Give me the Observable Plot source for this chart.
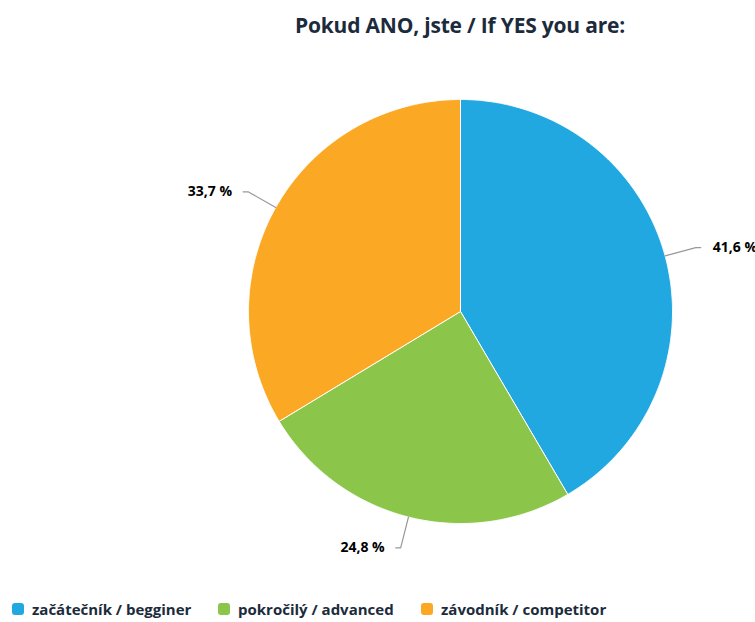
<!DOCTYPE html>
<html>
<head>
<meta charset="utf-8">
<script src="https://cdn.jsdelivr.net/npm/d3@7"></script>
<script src="https://cdn.jsdelivr.net/npm/@observablehq/plot@0.6"></script>
<style>
  body { margin: 0; background: #fff; font-family: "Open Sans", "DejaVu Sans", sans-serif; }
  #wrap { width: 755px; height: 622px; overflow: hidden; position: relative; }
  #title { height: 48px; margin-left: 165px; width: 590px; text-align: center; font-weight: 700; font-size: 21px; line-height: 50px; color: #1c2b3c; letter-spacing: -0.2px; }
  #legend { height: 34px; display: flex; align-items: center; font-size: 15px; font-weight: 700; color: #1c2b3c; }
  .item { display: flex; align-items: center; position: absolute; }
  .sw { width: 12px; height: 12px; border-radius: 3px; margin-right: 8px; }
</style>
</head>
<body>
<div id="wrap">
  <div id="title">Pokud ANO, jste / If YES you are:</div>
  <div id="chart"></div>
  <div id="legend"></div>
</div>
<script>
const categories = ["začátečník / begginer", "pokročilý / advanced", "závodník / competitor"];
const values = [41.6, 24.8, 33.7];
const valueLabels = ["41,6 %", "24,8 %", "33,7 %"];
const colors = ["#21a8e1", "#8bc549", "#fba924"];

const W = 755, H = 540;
const R = 212;              // px per unit radius
const cx = 460, cy = 263;   // pie centre inside the svg

const pie = d3.pie().sort(null).value(d => d.value);
const arcs = pie(categories.map((c, i) => ({cat: c, value: values[i], label: valueLabels[i], color: colors[i]})));

function slicePoints(a) {
  const pts = [{x: 0, y: 0}];
  const n = Math.max(2, Math.ceil((a.endAngle - a.startAngle) / 0.005));
  for (let k = 0; k <= n; k++) {
    const t = a.startAngle + (a.endAngle - a.startAngle) * k / n;
    pts.push({x: Math.sin(t), y: Math.cos(t)});
  }
  pts.push({x: 0, y: 0});
  return pts;
}

const labelData = arcs.map(a => {
  const m = (a.startAngle + a.endAngle) / 2;
  const s = Math.sin(m), c = Math.cos(m);
  const side = s >= 0 ? 1 : -1;
  const ex = 1.15 * s, ey = 1.15 * c;
  const endX = ex + side * 5 / R;
  return {
    label: a.data.label, side,
    line: [{x: s, y: c}, {x: ex, y: ey}, {x: endX, y: ey}],
    tx: endX, ty: ey
  };
});

const marks = [];
arcs.forEach(a => {
  marks.push(Plot.line(slicePoints(a), {x: "x", y: "y", fill: a.data.color, stroke: "#ffffff", strokeWidth: 1, strokeLinejoin: "round"}));
});
labelData.forEach(l => {
  marks.push(Plot.line(l.line, {x: "x", y: "y", stroke: "#999999", strokeWidth: 1.2, curve: "linear"}));
});
marks.push(Plot.text(labelData.filter(d => d.side > 0), {x: "tx", y: "ty", text: "label", textAnchor: "start", dx: 12, fontSize: 14, fontWeight: 700, fill: "#000", lineAnchor: "middle"}));
marks.push(Plot.text(labelData.filter(d => d.side < 0), {x: "tx", y: "ty", text: "label", textAnchor: "end", dx: -11, fontSize: 14, fontWeight: 700, fill: "#000", lineAnchor: "middle"}));

const chart = Plot.plot({
  width: W, height: H,
  margin: 0,
  style: {fontFamily: "'Open Sans', 'DejaVu Sans', sans-serif", background: "#fff", overflow: "visible"},
  x: {domain: [-cx / R, (W - cx) / R], axis: null},
  y: {domain: [-(H - cy) / R, cy / R], axis: null},
  marks
});
document.getElementById("chart").appendChild(chart);

const legend = document.getElementById("legend");
const legendX = [12, 218, 421];
categories.forEach((c, i) => {
  const it = document.createElement("div");
  it.className = "item";
  it.style.left = legendX[i] + "px";
  it.style.top = "599px";
  const sw = document.createElement("div");
  sw.className = "sw";
  sw.style.background = colors[i];
  const tx = document.createElement("span");
  tx.textContent = c;
  it.appendChild(sw);
  it.appendChild(tx);
  legend.appendChild(it);
});
</script>
</body>
</html>
